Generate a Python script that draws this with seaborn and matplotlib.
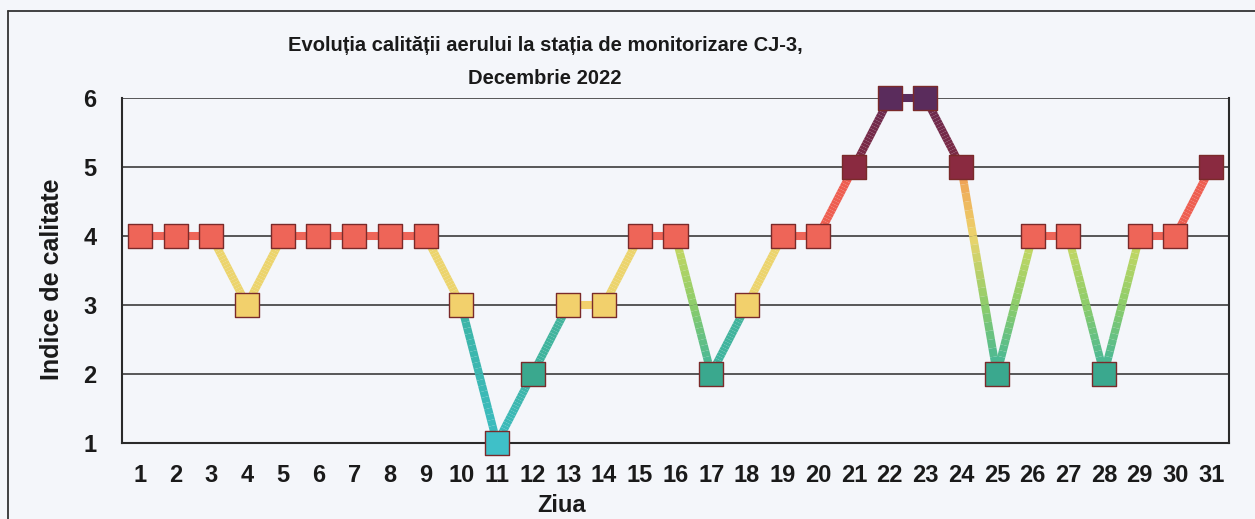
import numpy as np
import matplotlib
matplotlib.use("Agg")
import matplotlib.pyplot as plt
from matplotlib.collections import LineCollection
from matplotlib.colors import LinearSegmentedColormap
from matplotlib.lines import Line2D
import seaborn as sns

# data
days = list(range(1, 32))
indice = [4, 4, 4, 3, 4, 4, 4, 4, 4, 3, 1, 2, 3, 3, 4, 4, 2, 3, 4, 4,
          5, 6, 6, 5, 2, 4, 4, 2, 4, 4, 5]
title = "Evoluția calității aerului la stația de monitorizare CJ-3,\nDecembrie 2022"

# marker colours per index value
marker_colors = {1: "#3fc0c8", 2: "#3aa88e", 3: "#f2d06c", 4: "#ee6558",
                 5: "#8a2a40", 6: "#5a2c5c"}
# line colour ramps for each (low, high) pair of neighbouring values
pair_ramp = {
    (1, 2): ["#3bbcc0", "#3cb4a4"],
    (1, 3): ["#3bbcc0", "#3cb4a4"],
    (2, 3): ["#3cb49e", "#44b49c"],
    (2, 4): ["#3cb49e", "#8ccc6a", "#cdd862"],
    (2, 5): ["#3cb49e", "#8ccc6a", "#ecd46c", "#f09a52"],
    (3, 4): ["#ecd46c", "#ecd46c"],
    (4, 5): ["#ee5e50", "#ee5e50"],
    (5, 6): ["#7e2a42", "#6a2a50"],
}

bg = "#f4f6fa"
sns.set_style("white")
plt.rcParams["font.family"] = ["Liberation Sans", "DejaVu Sans"]

fig = plt.figure(figsize=(12.55, 5.19), dpi=100, facecolor=bg)
ax = fig.add_axes([122 / 1255, 1 - 443 / 519, (1229 - 122) / 1255, (443 - 98) / 519])
ax.set_facecolor(bg)

# gradient line segments
segs, cols = [], []
for i in range(len(days) - 1):
    x0, x1 = days[i], days[i + 1]
    y0, y1 = indice[i], indice[i + 1]
    if y0 == y1:
        segs.append([(x0, y0), (x1, y1)])
        cols.append(marker_colors[y0])
        continue
    lo, hi = min(y0, y1), max(y0, y1)
    cmap = LinearSegmentedColormap.from_list("r", pair_ramp[(lo, hi)])
    t = np.linspace(0, 1, 25)
    xs = x0 + (x1 - x0) * t
    ys = y0 + (y1 - y0) * t
    for k in range(len(t) - 1):
        segs.append([(xs[k], ys[k]), (xs[k + 1], ys[k + 1])])
        cols.append(cmap(((ys[k] + ys[k + 1]) / 2 - lo) / (hi - lo)))
lc = LineCollection(segs, colors=cols, linewidths=5.8, capstyle="butt", zorder=2)
lc.set_clip_on(False)
ax.add_collection(lc)

sns.scatterplot(x=days, y=indice, hue=indice, palette=marker_colors, marker="s",
                s=300, edgecolor="#7a2a2a", linewidth=1.0, legend=False,
                zorder=3, clip_on=False, ax=ax)

ax.set_xlim(0.5, 31.5)
ax.set_ylim(1, 6)
ax.set_yticks([1, 2, 3, 4, 5, 6])
ax.set_xticks(days)
ax.set_xticks(np.arange(0.5, 32, 1), minor=True)
ax.tick_params(axis="x", which="major", length=0, pad=15, labelsize=17)
ax.tick_params(axis="x", which="minor", length=6.5, width=1.2, color="#333333", direction="out")
ax.tick_params(axis="y", which="major", length=6.5, width=1.2, color="#333333", pad=12, labelsize=17)
for lab in ax.get_xticklabels() + ax.get_yticklabels():
    lab.set_fontweight("bold")
    lab.set_color("#1a1a1a")

for v in [2, 3, 4, 5, 6]:
    ax.axhline(v, color="#4a4a4a", lw=1.3, zorder=1)
for s in ["left", "bottom", "right"]:
    ax.spines[s].set_color("#2a2a2a")
    ax.spines[s].set_linewidth(1.5)
ax.spines["top"].set_visible(False)

ax.set_xlabel("")
ax.set_ylabel("")
fig.text(562 / 1255, 1 - 506 / 519, "Ziua", ha="center", va="center",
         fontsize=17, fontweight="bold", color="#1a1a1a")
fig.text(52 / 1255, 1 - 279 / 519, "Indice de calitate", rotation=90, ha="center",
         va="center", fontsize=18, fontweight="bold", color="#1a1a1a")
fig.text(545 / 1255, 1 - 62 / 519, title, ha="center", va="center",
         fontsize=14.5, fontweight="bold", color="#1a1a1a", linespacing=1.95)

# outer chart frame (left and top edges visible in the scan)
fig.add_artist(Line2D([8 / 1255, 8 / 1255], [0, 1 - 11 / 519], transform=fig.transFigure,
                      color="#333333", lw=1.3))
fig.add_artist(Line2D([8 / 1255, 1], [1 - 11 / 519, 1 - 11 / 519], transform=fig.transFigure,
                      color="#333333", lw=1.3))

fig.savefig("out.png", dpi=100, facecolor=bg)
